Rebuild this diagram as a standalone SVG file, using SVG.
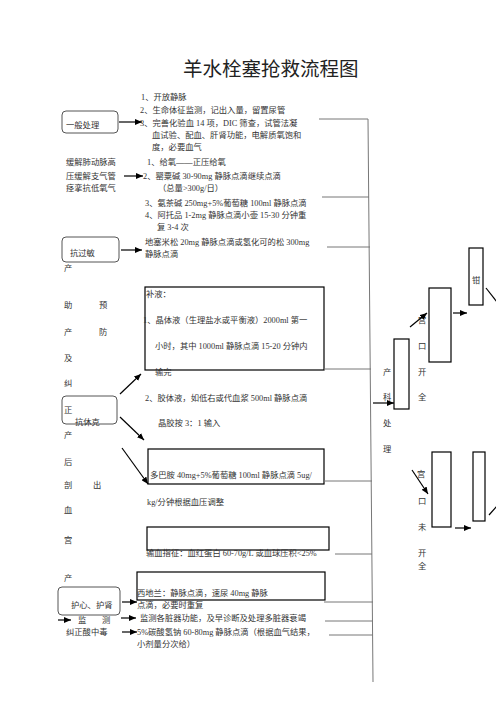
<svg xmlns="http://www.w3.org/2000/svg" width="496" height="702" viewBox="0 0 496 702">
<style>
text{font-family:"Liberation Serif","Noto Sans CJK SC",serif;font-size:8.3px;fill:#333}
.t{font-family:"Noto Sans CJK SC","Liberation Sans",sans-serif;font-size:19.5px;fill:#222}
.rb{fill:none;stroke:#555;stroke-width:1}
.bx{fill:none;stroke:#000;stroke-width:1.2}
.ar{stroke:#000;stroke-width:1.2;fill:none}
.gl{stroke:#777;stroke-width:1;fill:none}
</style>
<defs>
<marker id="ah" markerUnits="userSpaceOnUse" markerWidth="8" markerHeight="6" refX="7" refY="3" orient="auto">
<path d="M0,0 L7,3 L0,6 Z" fill="#000"/>
</marker>
</defs>
<rect width="496" height="702" fill="#fff"/>
<text class="t" x="183" y="76">羊水栓塞抢救流程图</text>

<g id="n-general">
<rect class="rb" x="62" y="111" width="56" height="22" rx="4"/>
<text x="66" y="128">一般处理</text>
</g>
<g id="n-general-steps">
<text x="141" y="100">1、开放静脉</text>
<text x="140" y="113">2、生命体征监测，记出入量，留置尿管</text>
<text x="140" y="126">3、完善化验血 14 项，DIC 筛查，试管法凝</text>
<text x="152" y="138">血试验、配血、肝肾功能，电解质氧饱和</text>
<text x="152" y="150">度，必要血气</text>
</g>
<g id="n-relieve">
<text x="66" y="165">缓解肺动脉高</text>
<text x="66" y="179">压缓解支气管</text>
<text x="66" y="191">痉挛抗低氧气</text>
</g>
<g id="n-relieve-steps">
<text x="147" y="165">1、给氧——正压给氧</text>
<text x="143" y="179">2、罂粟碱 30-90mg 静脉点滴继续点滴</text>
<text x="158" y="191">（总量&gt;300g/日）</text>
<text x="145" y="206">3、氨茶碱 250mg+5%葡萄糖 100ml 静脉点滴</text>
<text x="145" y="218">4、阿托品 1-2mg 静脉点滴小壶 15-30 分钟重</text>
<text x="157" y="230">复 3-4 次</text>
</g>
<g id="n-allergy">
<rect class="rb" x="62" y="237" width="57" height="25" rx="4"/>
<text x="70" y="256">抗过敏</text>
</g>
<g id="n-allergy-steps">
<text x="145" y="245">地塞米松 20mg 静脉点滴或氢化可的松 300mg</text>
<text x="145" y="257">静脉点滴</text>
</g>
<g id="n-left-col">
<text x="64" y="271">产</text>
<text x="64" y="308">助</text><text x="99" y="308">预</text>
<text x="64" y="335">产</text><text x="99" y="335">防</text>
<text x="64" y="361">及</text>
<text x="64" y="386">纠</text>
<text x="64" y="413">正</text>
<text x="64" y="438">产</text>
<text x="64" y="465">后</text>
<text x="64" y="488">剖</text><text x="93" y="488">出</text>
<text x="64" y="513">血</text>
<text x="64" y="543">宫</text>
<text x="64" y="581">产</text>
</g>
<g id="n-shock">
<rect class="rb" x="62" y="396" width="55" height="28" rx="4"/>
<text x="75" y="425">抗休克</text>
</g>
<g id="n-fluid">
<rect class="bx" x="145" y="287" width="179" height="83"/>
<text x="146" y="297">补液：</text>
<text x="143" y="323">1、晶体液（生理盐水或平衡液）2000ml 第一</text>
<text x="155" y="349">小时，其中 1000ml 静脉点滴 15-20 分钟内</text>
<text x="155" y="375">输完</text>
<text x="145" y="401">2、胶体液，如低右或代血浆 500ml 静脉点滴</text>
<text x="158" y="426">晶胶按 3：1 输入</text>
</g>
<g id="n-dopamine">
<rect class="bx" x="148" y="449" width="176" height="35"/>
<text x="150" y="478">多巴胺 40mg+5%葡萄糖 100ml 静脉点滴 5ug/</text>
<text x="147" y="505">kg/分钟根据血压调整</text>
</g>
<g id="n-transfusion">
<rect class="bx" x="147" y="527" width="182" height="23"/>
<text x="146" y="556">输血指征：血红蛋白 60-70g/L 或血球压积&lt;25%</text>
</g>
<g id="n-heart">
<rect class="rb" x="58" y="587" width="62" height="28" rx="4"/>
<text x="71" y="608">护心、护肾</text>
<text x="78" y="623">监</text><text x="102" y="623">测</text>
<text x="66" y="635">纠正酸中毒</text>
</g>
<g id="n-heart-steps">
<rect class="bx" x="137" y="572" width="188" height="28"/>
<text x="137" y="596">西地兰：静脉点滴，速尿 40mg 静脉</text>
<text x="137" y="608">点滴，必要时重复</text>
<text x="140" y="621">监测各脏器功能，及早诊断及处理多脏器衰竭</text>
<text x="137" y="635">5%碳酸氢钠 60-80mg 静脉点滴（根据血气结果，</text>
<text x="137" y="647">小剂量分次给）</text>
</g>
<g id="n-obstetric">
<text x="383" y="375">产</text>
<text x="383" y="400">科</text>
<text x="383" y="426">处</text>
<text x="383" y="452">理</text>
<rect class="bx" x="394" y="339" width="15" height="70"/>
</g>
<g id="n-open">
<text x="418" y="323">宫</text>
<text x="418" y="349">口</text>
<text x="418" y="375">开</text>
<text x="418" y="400">全</text>
<rect class="bx" x="429" y="288" width="22" height="74"/>
</g>
<g id="n-forceps">
<rect class="bx" x="469" y="248" width="14" height="57"/>
<text x="472" y="283">钳</text>
</g>
<g id="n-notopen">
<text x="417" y="477">宫</text>
<text x="418" y="504">口</text>
<text x="418" y="530">未</text>
<text x="418" y="556">开</text>
<text x="418" y="569">全</text>
<rect class="bx" x="432" y="452" width="19" height="75"/>
</g>
<g id="n-cs">
<rect class="bx" x="473" y="452" width="12" height="69"/>
</g>

<g id="connectors">
<line class="ar" x1="119" y1="122" x2="142" y2="122" marker-end="url(#ah)"/>
<line class="ar" x1="124" y1="176" x2="143" y2="176" marker-end="url(#ah)"/>
<line class="ar" x1="121" y1="250" x2="142" y2="250" marker-end="url(#ah)"/>
<line class="ar" x1="120" y1="394" x2="141" y2="374" marker-end="url(#ah)"/>
<line class="ar" x1="120" y1="417" x2="144" y2="440" marker-end="url(#ah)"/>
<line class="ar" x1="122" y1="448" x2="148" y2="484" marker-end="url(#ah)"/>
<line class="ar" x1="122" y1="602" x2="137" y2="602" marker-end="url(#ah)"/>
<line class="ar" x1="58" y1="620" x2="71" y2="620" marker-end="url(#ah)"/>
<line class="ar" x1="121" y1="618" x2="136" y2="618" marker-end="url(#ah)"/>
<line class="ar" x1="122" y1="632" x2="137" y2="632" marker-end="url(#ah)"/>
<line class="ar" x1="373" y1="403" x2="394" y2="403" marker-end="url(#ah)"/>
<line class="ar" x1="410" y1="327" x2="427" y2="313" marker-end="url(#ah)"/>
<line class="ar" x1="453" y1="313" x2="467" y2="313" marker-end="url(#ah)"/>
<line class="ar" x1="412" y1="470" x2="428" y2="494" marker-end="url(#ah)"/>
<line class="ar" x1="455" y1="528" x2="471" y2="528" marker-end="url(#ah)"/>
<line class="ar" x1="486" y1="288" x2="497" y2="302"/>
<line class="ar" x1="489" y1="515" x2="497" y2="506"/>
<line class="gl" x1="368" y1="119" x2="373" y2="682"/>
<line class="gl" x1="319" y1="119" x2="368" y2="119"/>
<line class="gl" x1="322" y1="197" x2="369" y2="197"/>
<line class="gl" x1="327" y1="247" x2="370" y2="247"/>
<line class="gl" x1="324" y1="369" x2="371" y2="369"/>
<line class="gl" x1="324" y1="481" x2="372" y2="481"/>
<line class="gl" x1="335" y1="554" x2="372" y2="554"/>
<line class="gl" x1="324" y1="602" x2="373" y2="602"/>
<line class="gl" x1="325" y1="621" x2="373" y2="621"/>
<line class="gl" x1="329" y1="635" x2="373" y2="635"/>
</g>
</svg>
